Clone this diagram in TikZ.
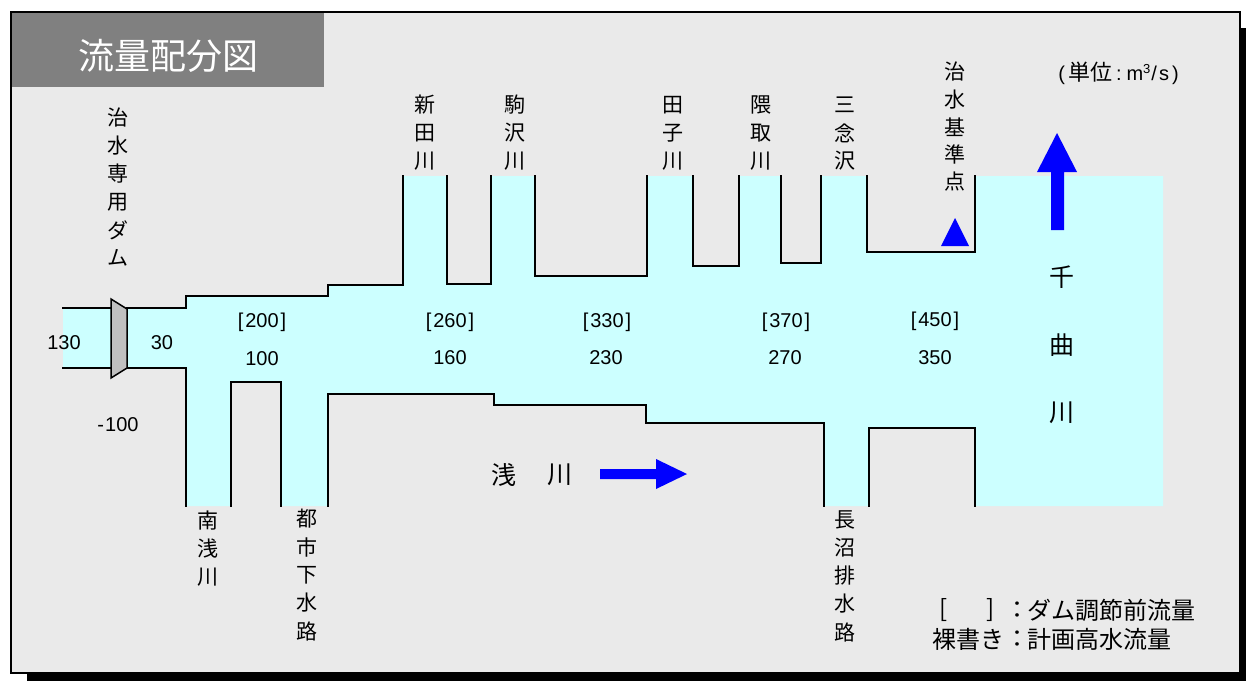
\documentclass[tikz,border=0pt]{standalone}
\usepackage{fontspec}
\setmainfont{Liberation Sans}
\newfontfamily\jp{Noto Sans CJK JP}
\definecolor{bg}{HTML}{EAEAEA}
\definecolor{water}{HTML}{CCFFFF}
\definecolor{titlegray}{HTML}{808080}
\definecolor{damgray}{HTML}{C0C0C0}
\definecolor{flowblue}{HTML}{0000FF}
\tikzset{
  edge/.style={line width=1.8pt, line join=miter, line cap=rect},
  num/.style={font=\fontsize{20}{24}\selectfont, inner sep=0pt},
  jlab/.style={font=\jp\fontsize{21}{25}\selectfont, inner sep=0pt},
  biglab/.style={font=\jp\fontsize{25}{30}\selectfont, inner sep=0pt},
  leglab/.style={font=\jp\fontsize{24}{28}\selectfont, inner sep=0pt},
  gapbox/.style={fill=bg},
  arrowfill/.style={fill=flowblue},
}
\newcommand\vlab[6]{% style, name, x, y0, dy, list
  \foreach \ch [count=\i from 0] in {#6} {\node[#1] (#2\i) at (#3,{#4+#5*\i}) {\ch};}}
\begin{document}
\begin{tikzpicture}[x=1pt,y=-1pt]
\useasboundingbox (0,0) rectangle (1246,681);
% shadow and frame
\fill[black] (27,28) rectangle (1246,681);
\filldraw[fill=bg, draw=black, line width=1.6pt] (11,12) rectangle (1240,673);
% title
\fill[titlegray] (12,13) rectangle (324,87);
\node[font=\jp\fontsize{36}{40}\selectfont, text=white, inner sep=0pt] (title) at (168,56) {流量配分図};
% water
\fill[water] (63,308) -- (186,308) -- (186,296) -- (328,296) -- (328,285) -- (403,285) -- (403,176)
  -- (1163,176) -- (1163,506) -- (975,506) -- (975,428) -- (869,428) -- (869,506) -- (824,506)
  -- (824,423) -- (646,423) -- (646,405) -- (494,405) -- (494,394) -- (328,394) -- (328,506)
  -- (281,506) -- (281,382) -- (231,382) -- (231,506) -- (186,506) -- (186,368) -- (63,368) -- cycle;
% gaps between tributaries
\fill[gapbox] (447,176) rectangle (491,284);
\fill[gapbox] (535,176) rectangle (647,276);
\fill[gapbox] (693,176) rectangle (739,266);
\fill[gapbox] (781,176) rectangle (821,263);
\fill[gapbox] (867,176) rectangle (975,252);
% banks
\draw[edge] (63,308) -- (111,308);
\draw[edge] (63,368) -- (111,368);
\draw[edge] (127,308) -- (186,308) -- (186,296) -- (328,296) -- (328,285) -- (403,285) -- (403,176);
\draw[edge] (127,368) -- (186,368) -- (186,506);
\draw[edge] (231,506) -- (231,382) -- (281,382) -- (281,506);
\draw[edge] (328,506) -- (328,394) -- (494,394) -- (494,405) -- (646,405) -- (646,423) -- (824,423) -- (824,506);
\draw[edge] (869,506) -- (869,428) -- (975,428) -- (975,506);
\draw[edge] (447,176) -- (447,284) -- (491,284) -- (491,176);
\draw[edge] (535,176) -- (535,276) -- (647,276) -- (647,176);
\draw[edge] (693,176) -- (693,266) -- (739,266) -- (739,176);
\draw[edge] (781,176) -- (781,263) -- (821,263) -- (821,176);
\draw[edge] (867,176) -- (867,252) -- (975,252) -- (975,176);
% dam
\filldraw[fill=damgray, draw=black, line width=1.5pt, line join=miter] (111,299) -- (127,309) -- (127,368) -- (111,378) -- cycle;
% markers and arrows
\fill[flowblue] (941,246) -- (955,218) -- (969,246) -- cycle;
\fill[arrowfill] (1051,230) -- (1051,172) -- (1037,172) -- (1057,133) -- (1077,172) -- (1064,172) -- (1064,230) -- cycle;
\fill[arrowfill] (600,469) -- (656,469) -- (656,459) -- (687,474) -- (656,489) -- (656,479) -- (600,479) -- cycle;
% vertical labels
\vlab{jlab}{dam}{118}{118}{28}{治,水,専,用,ダ,ム}
\vlab{jlab}{nitta}{425}{105}{28}{新,田,川}
\vlab{jlab}{koma}{515}{105}{28}{駒,沢,川}
\vlab{jlab}{tago}{673}{105}{28}{田,子,川}
\vlab{jlab}{kuma}{761}{105}{28}{隈,取,川}
\vlab{jlab}{san}{845}{105}{28}{三,念,沢}
\vlab{jlab}{kijun}{955}{72}{27.5}{治,水,基,準,点}
\vlab{jlab}{minami}{208}{521}{28}{南,浅,川}
\vlab{jlab}{toshi}{307}{519}{28}{都,市,下,水,路}
\vlab{jlab}{naga}{845}{520}{28}{長,沼,排,水,路}
\vlab{biglab}{chikuma}{1062}{277}{68}{千,曲,川}
\node[biglab] (asa1) at (504,475) {浅};
\node[biglab] (asa2) at (560,475) {川};
% numbers
\node[num] (n130) at (64,343) {130};
\node[num] (n30) at (162,343) {30};
\node[num] (nm100) at (118,425) {-\kern1pt100};
\node[num] (b200) at (262,322) {[\kern2pt200\kern2pt]};
\node[num] (n100) at (262,359) {100};
\node[num] (b260) at (450,322) {[\kern2pt260\kern2pt]};
\node[num] (n160) at (450,358) {160};
\node[num] (b330) at (607,322) {[\kern2pt330\kern2pt]};
\node[num] (n230) at (606,358) {230};
\node[num] (b370) at (786,322) {[\kern2pt370\kern2pt]};
\node[num] (n270) at (785,358) {270};
\node[num] (b450) at (935,321) {[\kern2pt450\kern2pt]};
\node[num] (n350) at (935,358) {350};
% unit
\node[num] (unit) at (1118.5,73) {(\kern3pt{\jp\fontsize{22}{24}\selectfont 単位}\kern4pt:\kern5pt m\raisebox{7pt}{\fontsize{13}{14}\selectfont 3}\kern1pt/\kern2pt s\kern3pt)};
% legend
\node[leglab] (lb1) at (944,610) {[};
\node[leglab] (lb2) at (991,610) {]};
\node[leglab] (lc1) at (1017,610) {：};
\node[leglab, anchor=west] (lt1) at (1027,610) {ダム調節前流量};
\node[leglab, anchor=east] (lt2a) at (1005,639) {裸書き};
\node[leglab] (lc2) at (1017,639) {：};
\node[leglab, anchor=west] (lt2) at (1027,639) {計画高水流量};
\end{tikzpicture}
\end{document}
